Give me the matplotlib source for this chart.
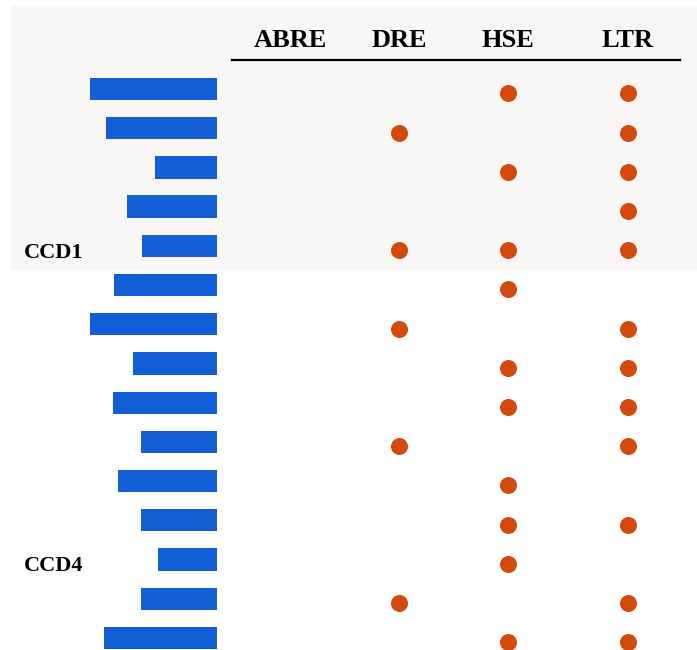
import matplotlib.pyplot as plt
import numpy as np
from matplotlib.patches import Rectangle

plt.rcParams.update({"font.family": "serif", "font.serif": ["Liberation Serif"], "font.weight": "bold"})

# bar lengths per gene (top to bottom) and motif presence per gene
bar_values = [127, 111, 62, 90, 75, 103, 127, 84, 104, 76, 99, 76, 59, 76, 113]
motifs = ["ABRE", "DRE", "HSE", "LTR"]
abre = [0, 0, 0, 0, 0, 0, 0, 0, 0, 0, 0, 0, 0, 0, 0]
dre = [0, 1, 0, 0, 1, 0, 1, 0, 0, 1, 0, 0, 0, 1, 0]
hse = [1, 0, 1, 0, 1, 1, 0, 1, 1, 0, 1, 1, 1, 0, 1]
ltr = [1, 1, 1, 1, 1, 0, 1, 1, 1, 1, 0, 1, 0, 1, 1]
group_labels = ["CCD1", "CCD4"]
group_rows = [4, 12]

W, H = 697, 650
row0, step = 89, 39.21
n = len(bar_values)
rows = np.arange(n)
ylim = ((H - row0) / step, -row0 / step)

fig = plt.figure(figsize=(W / 100, H / 100), dpi=100)
fig.patches.append(Rectangle((11 / W, 1 - 269 / H), 686 / W, 263 / H,
                             transform=fig.transFigure, color="#f9f7f5", zorder=-5))

# bars, growing leftwards from x = 217 px
ax_bar = fig.add_axes([0, 0, 217 / W, 1])
ax_bar.barh(rows, bar_values, height=0.57, color="#135fd6")
ax_bar.set_xlim(217, 0)
ax_bar.set_ylim(*ylim)
ax_bar.axis("off")
for lab, r in zip(group_labels, group_rows):
    ax_bar.text(24 / 217, r + 0.3, lab, transform=ax_bar.get_yaxis_transform(),
                fontsize=16, fontweight="bold", ha="left", va="baseline")

# motif dot matrix
ax_dot = fig.add_axes([0, 0, 1, 1])
col_x = [290, 399, 508, 628]
shift = 0.11
ax_dot.set_xlim(0, W)
ax_dot.set_ylim(ylim[0] - shift, ylim[1] - shift)
ax_dot.axis("off")
for cx, flags in zip(col_x, [abre, dre, hse, ltr]):
    ys = [r for r, f in zip(rows, flags) if f]
    ax_dot.scatter([cx] * len(ys), ys, s=150, color="#d24a0c", linewidths=0, zorder=3)

for cx, m in zip(col_x, motifs):
    ax_dot.text(cx, (47 - row0) / step - shift, m, fontsize=19, fontweight="bold",
                ha="center", va="baseline")
ax_dot.plot([232, 680], [(60 - row0) / step - shift] * 2, color="black", lw=1.6)

fig.savefig("out.png", dpi=100)
